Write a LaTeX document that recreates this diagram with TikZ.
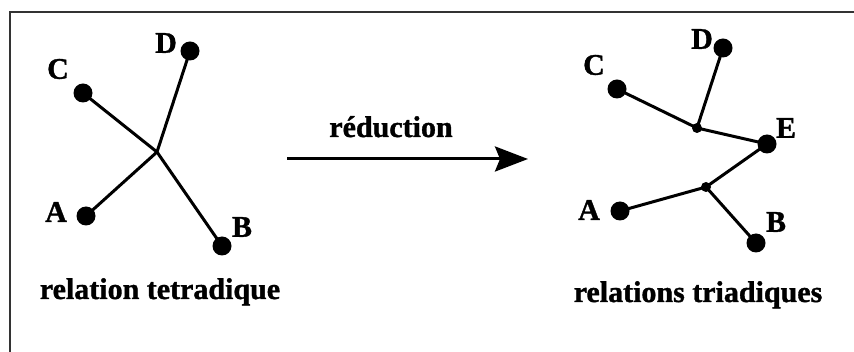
\documentclass[tikz,border=0pt]{standalone}
\usepackage{fontspec}
\setmainfont{Liberation Serif}[BoldFeatures={FakeBold=1.2}]
\usetikzlibrary{arrows.meta}
\begin{document}
\begin{tikzpicture}[x=1pt,y=-1pt,
  vertex/.style={circle,fill=black,inner sep=0pt,minimum size=19pt},
  joint/.style={circle,fill=black,inner sep=0pt,minimum size=10pt},
  letter/.style={inner sep=0pt,font=\fontsize{30}{34}\selectfont\bfseries},
  caption/.style={inner sep=0pt,anchor=base,font=\fontsize{30}{36}\selectfont\bfseries},
  edge/.style={line width=3pt}]
  \useasboundingbox (0,0) rectangle (854,352);
  % frame
  \draw[line width=2pt,color=black!80] (10,353) -- (10,12) -- (855,12);

  % tetradic relation
  \coordinate (X) at (157,152);
  \node[vertex] (lA) at (86,216) {};
  \node[vertex] (lB) at (222,246) {};
  \node[vertex] (lC) at (83,93) {};
  \node[vertex] (lD) at (190,51) {};
  \draw[edge] (lC.center) -- (X) -- (lB.center);
  \draw[edge] (lA.center) -- (X) -- (lD.center);
  \node[letter] (tA) at (56,212) {A};
  \node[letter] (tB) at (242,227) {B};
  \node[letter] (tC) at (58,69) {C};
  \node[letter] (tD) at (166,43) {D};
  \node[caption] (cap1) at (160,299) {relation tetradique};

  % reduction arrow
  \coordinate (r0) at (287,159);
  \coordinate (r1) at (528,159);
  \draw[line width=3pt,-{Stealth[length=33pt,width=25pt,inset=5pt]}] (r0) -- (r1);
  \node[caption] (red) at (391,137) {réduction};

  % triadic relations
  \node[vertex] (rA) at (620,211) {};
  \node[vertex] (rB) at (756,243) {};
  \node[vertex] (rC) at (617,89) {};
  \node[vertex] (rD) at (723,48) {};
  \node[vertex] (rE) at (767,144) {};
  \node[joint] (j1) at (697,128) {};
  \node[joint] (j2) at (706,187) {};
  \draw[edge] (rC.center) -- (j1.center) -- (rE.center);
  \draw[edge] (rD.center) -- (j1.center);
  \draw[edge] (rE.center) -- (j2.center);
  \draw[edge] (rA.center) -- (j2.center) -- (rB.center);
  \node[letter] (uA) at (589,210) {A};
  \node[letter] (uB) at (776,222) {B};
  \node[letter] (uC) at (594,65) {C};
  \node[letter] (uD) at (702,39) {D};
  \node[letter] (uE) at (786,128) {E};
  \node[caption] (cap2) at (698,302) {relations triadiques};
\end{tikzpicture}
\end{document}
